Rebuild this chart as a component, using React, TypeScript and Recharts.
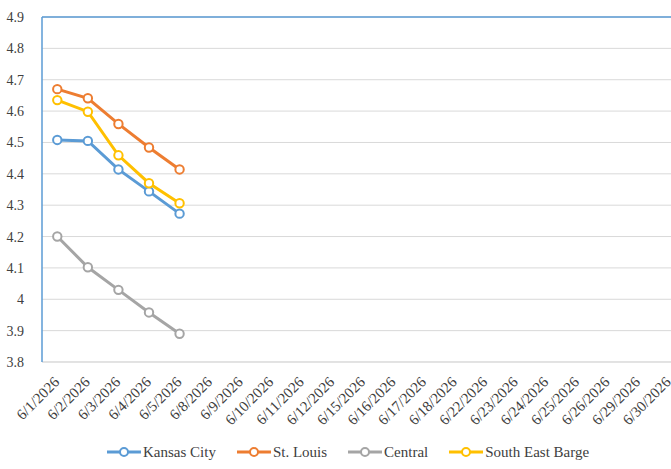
import React from 'react';
import { LineChart, Line, XAxis, YAxis, CartesianGrid, Legend, ReferenceLine } from 'recharts';

const dates = [
  '6/1/2026', '6/2/2026', '6/3/2026', '6/4/2026', '6/5/2026', '6/8/2026', '6/9/2026',
  '6/10/2026', '6/11/2026', '6/12/2026', '6/15/2026', '6/16/2026', '6/17/2026', '6/18/2026',
  '6/22/2026', '6/23/2026', '6/24/2026', '6/25/2026', '6/26/2026', '6/29/2026', '6/30/2026',
];

const kansasCity = [4.508, 4.505, 4.414, 4.344, 4.273];
const stLouis = [4.67, 4.641, 4.559, 4.484, 4.414];
const central = [4.2, 4.102, 4.03, 3.958, 3.89];
const southEastBarge = [4.635, 4.598, 4.459, 4.37, 4.306];

const yTicks = [3.8, 3.9, 4, 4.1, 4.2, 4.3, 4.4, 4.5, 4.6, 4.7, 4.8, 4.9];

const series = [
  { key: 'kc', name: 'Kansas City', color: '#5B9BD5', values: kansasCity },
  { key: 'stl', name: 'St. Louis', color: '#ED7D31', values: stLouis },
  { key: 'central', name: 'Central', color: '#A5A5A5', values: central },
  { key: 'seb', name: 'South East Barge', color: '#FFC000', values: southEastBarge },
];

const data = dates.map((d, i) => {
  const row: Record<string, any> = { date: d };
  series.forEach((s) => {
    row[s.key] = i < s.values.length ? s.values[i] : null;
  });
  return row;
});

const FONT = "'Liberation Serif', 'Times New Roman', serif";
const TEXT = '#404040';
const PLOT_W = 642;
const HALF_BAND = PLOT_W / dates.length / 2;

const XTick = (props: any) => {
  const { x, y, payload } = props;
  return (
    <g transform={`translate(${x + 3},${y + 13})`}>
      <text
        transform="rotate(-45)"
        textAnchor="end"
        fontSize={15}
        style={{ fontFamily: FONT }}
        fill={TEXT}
      >
        {payload.value}
      </text>
    </g>
  );
};

const LegendContent = () => (
  <div
    style={{
      height: 30,
      boxSizing: 'border-box',
      paddingBottom: 4,
      paddingLeft: 107,
      display: 'flex',
      alignItems: 'center',
      gap: 21,
      fontFamily: FONT,
      fontSize: 15,
      color: TEXT,
    }}
  >
    {series.map((s) => (
      <div key={s.key} style={{ display: 'flex', alignItems: 'center' }}>
        <svg width={34} height={12} style={{ marginRight: 2 }}>
          <line x1={0} y1={6} x2={34} y2={6} stroke={s.color} strokeWidth={3} />
          <circle cx={17} cy={6} r={4} fill="#fff" stroke={s.color} strokeWidth={2} />
        </svg>
        <span>{s.name}</span>
      </div>
    ))}
  </div>
);

export default function App() {
  return (
    <div style={{ position: 'absolute', left: 0, top: 0, width: 671, height: 469, overflow: 'hidden', background: '#fff' }}>
      <LineChart
        width={690}
        height={469}
        data={data}
        margin={{ top: 17, right: 6, left: 0, bottom: 0 }}
      >
        <CartesianGrid vertical={false} stroke="#D9D9D9" strokeWidth={1} />
        <XAxis
          dataKey="date"
          interval={0}
          height={77}
          padding={{ left: HALF_BAND, right: HALF_BAND }}
          tickLine={false}
          axisLine={{ stroke: '#D9D9D9', strokeWidth: 1 }}
          tick={<XTick />}
        />
        <YAxis
          width={42}
          domain={[3.8, 4.9]}
          ticks={yTicks}
          tickLine={false}
          axisLine={{ stroke: '#5B9BD5', strokeWidth: 1.5 }}
          tickMargin={12}
          tick={{ fontSize: 14, fontFamily: FONT, fill: TEXT }}
          tickFormatter={(v: number) => String(v)}
        />
        <ReferenceLine y={4.9} stroke="#5B9BD5" strokeWidth={1.5} />
        {series.map((s) => (
          <Line
            key={s.key}
            dataKey={s.key}
            name={s.name}
            stroke={s.color}
            strokeWidth={3}
            dot={{ r: 4.2, fill: '#fff', stroke: s.color, strokeWidth: 2 }}
            activeDot={false}
            isAnimationActive={false}
            connectNulls={false}
          />
        ))}
        <Legend verticalAlign="bottom" content={<LegendContent />} wrapperStyle={{ left: 0, width: 690 }} />
      </LineChart>
    </div>
  );
}
